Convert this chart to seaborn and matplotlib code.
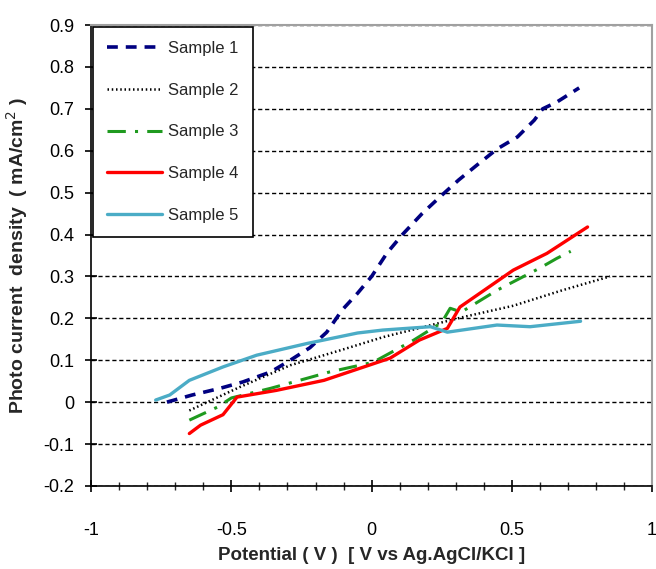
import numpy as np
import pandas as pd
import matplotlib
matplotlib.use('Agg')
import matplotlib.pyplot as plt
from matplotlib.ticker import MultipleLocator
import seaborn as sns

# 数据
s1_x = [-0.73, -0.64, -0.54, -0.46, -0.36, -0.29, -0.22, -0.16, -0.105, -0.05, 0.0, 0.055,
        0.11, 0.18, 0.244, 0.31, 0.376, 0.447, 0.52, 0.58, 0.61, 0.66, 0.74]
s1_y = [0.0, 0.017, 0.033, 0.048, 0.072, 0.10, 0.13, 0.167, 0.22, 0.26, 0.30, 0.356,
        0.40, 0.45, 0.49, 0.53, 0.566, 0.604, 0.633, 0.673, 0.70, 0.716, 0.75]

s2_x = [-0.65, -0.47, -0.29, -0.11, 0.04, 0.326, 0.505, 0.68, 0.85]
s2_y = [-0.02, 0.036, 0.088, 0.124, 0.155, 0.203, 0.23, 0.267, 0.30]

s3_x = [-0.65, -0.55, -0.50, -0.36, -0.23, -0.15, 0.005, 0.15, 0.25, 0.28, 0.32, 0.447, 0.60, 0.66, 0.71]
s3_y = [-0.043, -0.012, 0.01, 0.033, 0.057, 0.072, 0.095, 0.148, 0.19, 0.224, 0.215, 0.267, 0.32, 0.343, 0.36]

s4_x = [-0.65, -0.61, -0.53, -0.48, -0.34, -0.17, 0.066, 0.17, 0.27, 0.315, 0.505, 0.625, 0.77]
s4_y = [-0.075, -0.055, -0.03, 0.012, 0.028, 0.052, 0.105, 0.148, 0.176, 0.227, 0.315, 0.355, 0.418]

s5_x = [-0.77, -0.72, -0.65, -0.53, -0.41, -0.23, -0.05, 0.04, 0.21, 0.27, 0.447, 0.565, 0.745]
s5_y = [0.005, 0.017, 0.052, 0.084, 0.112, 0.14, 0.165, 0.172, 0.18, 0.167, 0.184, 0.18, 0.193]

names = ['Sample 1', 'Sample 2', 'Sample 3', 'Sample 4', 'Sample 5']
xs = [s1_x, s2_x, s3_x, s4_x, s5_x]
ys = [s1_y, s2_y, s3_y, s4_y, s5_y]

colors = ['#000080', '#000000', '#1f9a1f', '#ff0000', '#4bacc6']
styles = [(0, (3, 2.2)), (0, (0.6, 1.1)), (0, (6, 3, 1, 3)), '-', '-']
widths = [2.6, 1.8, 2.2, 2.4, 2.4]

sns.set_style('white')
plt.rcParams['font.family'] = ['Liberation Sans', 'DejaVu Sans']

fig = plt.figure(figsize=(6.56, 5.69), dpi=100)
ax = fig.add_axes([0.139, 0.146, 0.855, 0.81])

for i in range(5):
    df = pd.DataFrame({'x': xs[i], 'y': ys[i]})
    sns.lineplot(data=df, x='x', y='y', ax=ax, color=colors[i], linestyle=styles[i],
                 linewidth=widths[i], label=names[i], sort=False)

ax.set_xlim(-1, 1)
ax.set_ylim(-0.2, 0.9)
ax.xaxis.set_minor_locator(MultipleLocator(0.1))
ax.set_xticks([-1, -0.5, 0, 0.5, 1])
ax.set_xticklabels(['-1', '-0.5', '0', '0.5', '1'])
ax.set_yticks(np.round(np.arange(-0.2, 0.91, 0.1), 1))
ax.set_yticklabels(['-0.2', '-0.1', '0', '0.1', '0.2', '0.3', '0.4', '0.5', '0.6', '0.7', '0.8', '0.9'])
ax.tick_params(axis='both', which='major', direction='inout', length=8, width=1.2,
               labelsize=13, colors='black')
ax.tick_params(axis='x', which='major', pad=22)
ax.tick_params(axis='y', which='major', pad=8)
ax.tick_params(axis='x', which='minor', direction='inout', length=6, width=1)
ax.tick_params(bottom=True, left=True, which='both')

ax.yaxis.grid(True, color='black', linestyle=(0, (3, 2)), linewidth=1)
ax.xaxis.grid(False)

for s in ['left', 'bottom']:
    ax.spines[s].set_color('black')
    ax.spines[s].set_linewidth(1.2)
for s in ['top', 'right']:
    ax.spines[s].set_color('#a0a0a0')
    ax.spines[s].set_linewidth(1.5)

ax.set_xlabel('Potential ( V )  [ V vs Ag.AgCl/KCl ]', fontsize=13.5, fontweight='bold', labelpad=6)
ax.set_ylabel('Photo current  density  ( mA/cm$^2$ )', fontsize=14, fontweight='bold', labelpad=10)

leg = ax.legend(loc='upper left', bbox_to_anchor=(0.0035, 0.996), borderaxespad=0, fontsize=12,
                frameon=True, fancybox=False, framealpha=1, edgecolor='black', handlelength=3.3,
                labelspacing=1.6, borderpad=0.85, handletextpad=0.35)
leg.get_frame().set_linewidth(1.2)

fig.savefig('out.png', dpi=100)
